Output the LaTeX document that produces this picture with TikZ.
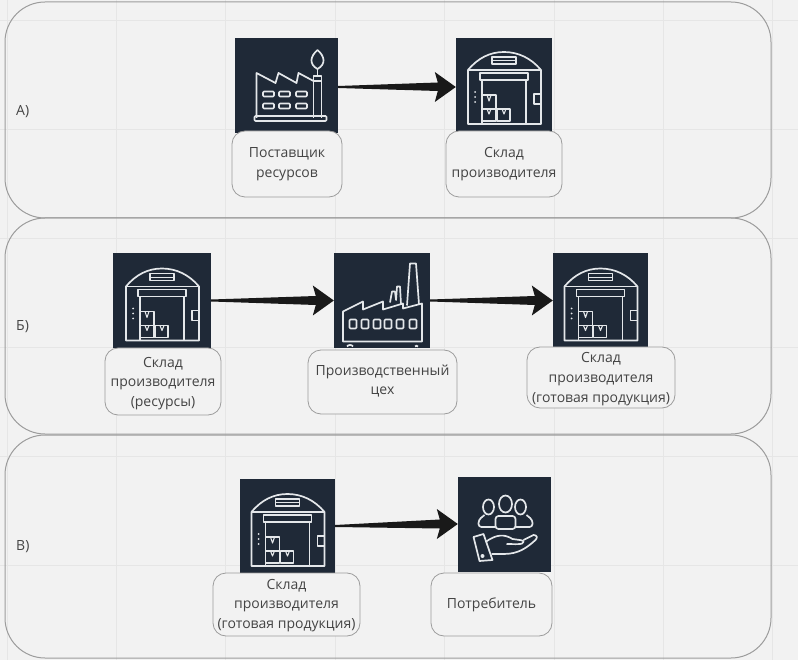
\documentclass[tikz,border=0pt]{standalone}
\usepackage{fontspec}
\setmainfont{Open Sans}
\usetikzlibrary{calc}
\definecolor{pagebg}{HTML}{F2F2F2}
\definecolor{gridc}{HTML}{E6E6E6}
\definecolor{edgec}{HTML}{9C9C9C}
\definecolor{iconbg}{HTML}{1F2937}
\definecolor{iconln}{HTML}{E4E7EA}
\definecolor{textc}{HTML}{444444}
\tikzset{
  x=1pt,y=-1pt,
  panel/.style={draw=edgec,line width=1pt,rounded corners=40pt},
  iconbox/.style={fill=iconbg,inner sep=0pt,minimum width=#1,minimum height=95pt},
  labelbox/.style={draw=edgec,line width=.8pt,fill=pagebg,rounded corners=13pt,inner sep=0pt},
  labeltext/.style={inner sep=0pt,align=center,text=textc,font=\fontsize{14}{19.7}\selectfont},
  sidelabel/.style={text=textc,font=\fontsize{14}{16}\selectfont,anchor=west,inner sep=0pt},
  ln/.style={draw=iconln,line width=1.7pt,line join=round,fill=none},
  arrowfill/.style={fill=black!90},
  warehouse/.pic={
    \draw[ln] (-36,40) -- (-36,-14) .. controls (-26,-26) and (-14,-32) .. (0,-32)
      .. controls (14,-32) and (27,-26) .. (37,-14) -- (37,40) -- cycle;
    \draw[ln] (-36,-14) -- (37,-14);
    \draw[ln] (-12,-27) rectangle (12,-20);
    \draw[ln,line width=.9pt] (-12,-23.5) -- (12,-23.5);
    \draw[ln] (-24,-11) rectangle (24,-4);
    \draw[ln] (-22,-4) -- (-22,40) (22,-4) -- (22,40);
    \draw[ln] (-22,11) rectangle (-8,25);
    \draw[ln] (-22,25) rectangle (-8,37);
    \draw[ln] (-7,25) rectangle (6,37);
    \draw[ln,line width=1.1pt] (-17,11) -- (-15,17) -- (-13,11) (-17,25) -- (-15,30) -- (-13,25) (-2,25) -- (0,30) -- (2,25);
    \draw[ln] (30,10) rectangle (37,20);
    \foreach \dy in {8,13,18}{\fill[iconln] (-29,\dy) circle (1pt);}
  },
  factorya/.pic={
    \draw[ln] (-30,35) -- (-30,-10) -- (-11,0) -- (-8,-10) -- (10,0) -- (12,-10) -- (27,-2);
    \draw[ln] (27,35) -- (27,-7) -- (35,-7) -- (35,35);
    \draw[ln] (27,-2) -- (35,-2);
    \draw[ln,rounded corners=1pt] (-32,33) rectangle (40,38);
    \draw[ln] (31,-14) .. controls (22,-19) and (24,-27) .. (31,-33)
       .. controls (38,-27) and (40,-19) .. (31,-14);
    \draw[ln] (31,-14) -- (31,-7);
    \foreach \wx in {-18,-2,15}{\foreach \wy in {11,23}{
      \draw[ln,rounded corners=1pt] (\wx-5.5,\wy-2.5) rectangle (\wx+5.5,\wy+2.5);}}
  },
  factoryb/.pic={
    \draw[ln] (-39,41) -- (-39,11) -- (-19,1) -- (-19,9) -- (1,1) -- (1,9) -- (21,3) -- (21,8) -- (40,3) -- (40,41) -- cycle;
    \draw[ln] (25,5) -- (28,-37) -- (34,-37) -- (37,4);
    \draw[ln] (8,2) -- (10,-9) -- (13,-9) -- (14,-1);
    \draw[ln] (14,0) -- (15,-14) -- (18,-14) -- (19,4);
    \foreach \wx in {-29,-17,-5,6,18,31}{
      \draw[ln,rounded corners=1pt] (\wx-3.5,19) rectangle (\wx+3.5,28);}
    \draw[ln] (-35,46) .. controls (-34,44) and (-30,44) .. (-29,46);
    \draw[ln] (33,46) .. controls (34,45) and (35,45) .. (36,46);
  },
  people/.pic={
    \draw[ln] (-16,-17) ellipse (5.5 and 7.5);
    \draw[ln] (1,-20) ellipse (6.5 and 8.5);
    \draw[ln] (16,-17) ellipse (5.5 and 7.5);
    \draw[ln,rounded corners=3pt] (-9,5) -- (-9,-8) -- (11,-8) -- (11,5) -- cycle;
    \draw[ln,rounded corners=3pt] (-9,3) -- (-26,3) -- (-26,-4) -- (-20,-9);
    \draw[ln,rounded corners=3pt] (11,3) -- (28,3) -- (28,-4) -- (22,-9);
    \draw[ln] (-31,13) -- (-21,10) -- (-12,36) -- (-25,37) -- cycle;
    \fill[iconln] (-22,32) circle (2pt);
    \draw[ln] (-19,18) .. controls (-8,10) and (0,10) .. (8,15) .. controls (14,16) and (20,16) .. (19,18)
      .. controls (19,21) and (10,20) .. (2,20);
    \draw[ln] (19,16) -- (29,11) .. controls (33,11) and (33,14) .. (31,16)
      .. controls (22,24) and (14,30) .. (-1,30) -- (-13,30);
  }
}
\newcommand{\flow}[2]{%
  \path[arrowfill]
    ([yshift=-1]#1.east) -- ([xshift=-18,yshift=-4.5]#2.west) -- ([xshift=-21,yshift=-15]#2.west)
    -- (#2.west) -- ([xshift=-21,yshift=15]#2.west) -- ([xshift=-18,yshift=4.5]#2.west)
    -- ([yshift=1]#1.east) -- cycle;}
\begin{document}
\begin{tikzpicture}
\useasboundingbox (0,0) rectangle (798,660);
\fill[pagebg] (0,0) rectangle (798,660);
\foreach \gx in {7,116,225.5,335,444.5,554,663,772.5}{\draw[gridc,line width=.8pt] (\gx,0) -- (\gx,660);}
\foreach \gy in {20,129,238,347,456,565}{\draw[gridc,line width=.8pt] (0,\gy) -- (798,\gy);}
% panels
\draw[panel] (5,2) rectangle (771,218);
\draw[panel] (5,218) rectangle (771,434);
\draw[panel] (5,435) rectangle (771,658);
\node[sidelabel] (la) at (16,111.5) {А)};
\node[sidelabel] (lb) at (16,327) {Б)};
\node[sidelabel] (lc) at (16,546.5) {В)};
% row A
\node[iconbox=103pt] (fa) at (286.5,85.5) {};
\pic at (286.5,83) {factorya};
\node[iconbox=96pt] (wa) at (504,85.5) {};
\pic at (504,84) {warehouse};
\path[arrowfill] ([yshift=-2.5]fa.east) -- ([xshift=-18,yshift=-5.5]wa.west) -- ([xshift=-21,yshift=-16.5]wa.west)
    -- ([yshift=-1.5]wa.west) -- ([xshift=-21,yshift=13.5]wa.west) -- ([xshift=-18,yshift=3]wa.west)
    -- ([yshift=-.5]fa.east) -- cycle;
\node[labelbox,minimum width=110pt,minimum height=66pt] (tfa) at (287,164) {};
\node[labeltext] (tfat) at (287,164) {Поставщик\\ресурсов};
\node[labelbox,minimum width=116pt,minimum height=66pt] (twa) at (504,164) {};
\node[labeltext] (twat) at (504,164) {Склад\\производителя};
% row B
\node[iconbox=98pt] (wb1) at (162,300.5) {};
\pic at (wb1.center) {warehouse};
\node[iconbox=96pt] (fb) at (382,300.5) {};
\pic at (fb.center) {factoryb};
\node[iconbox=95pt] (wb2) at (600.5,300.5) {};
\pic at (wb2.center) {warehouse};
\flow{wb1}{fb}
\flow{fb}{wb2}
\node[labelbox,minimum width=116pt,minimum height=67pt] (twb1) at (163,381.5) {};
\node[labeltext] (twb1t) at (163,383.5) {Склад\\производителя\\(ресурсы)};
\node[labelbox,minimum width=149pt,minimum height=64pt] (tfb) at (382.5,382) {};
\node[labeltext] (tfbt) at (382.5,381) {Производственный\\цех};
\node[labelbox,minimum width=148pt,minimum height=61pt] (twb2) at (601,377.5) {};
\node[labeltext] (twb2t) at (601,379) {Склад\\производителя\\(готовая продукция)};
% row C
\node[iconbox=95pt] (wc) at (287.5,526) {};
\pic at (wc.center) {warehouse};
\node[iconbox=93pt] (pc) at (504.5,524) {};
\pic at (pc.center) {people};
\flow{wc}{pc}
\node[labelbox,minimum width=147pt,minimum height=63pt] (twc) at (286.5,604.5) {};
\node[labeltext] (twct) at (286.5,605.5) {Склад\\производителя\\(готовая продукция)};
\node[labelbox,minimum width=121pt,minimum height=63pt] (tpc) at (491.5,604.5) {};
\node[labeltext] (tpct) at (491.5,604.5) {Потребитель};
\end{tikzpicture}
\end{document}
